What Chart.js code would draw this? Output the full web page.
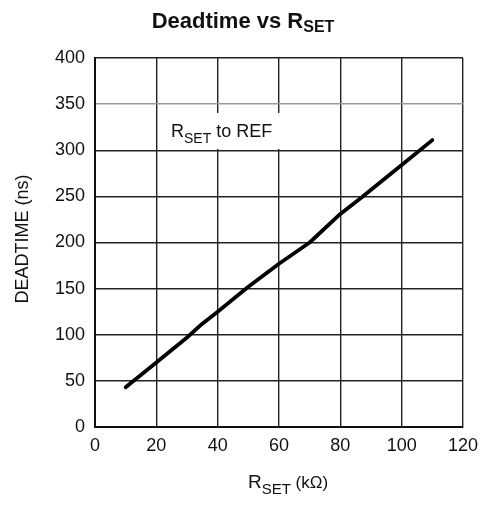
<!DOCTYPE html>
<html>
<head>
<meta charset="utf-8">
<script src="https://cdn.jsdelivr.net/npm/chart.js@4.4.1/dist/chart.umd.min.js"></script>
<style>
  html, body { margin: 0; padding: 0; background: #fff; }
  #wrap { width: 483px; height: 506px; }
</style>
</head>
<body>
<div id="wrap"><canvas id="c" width="483" height="506"></canvas></div>
<script>
// R_SET (kOhm) vs deadtime (ns)
const rset = [10, 20, 30, 35, 40, 50, 60, 70, 80, 87, 100, 110]
const deadtime = [43, 70, 97, 112, 125, 152, 177, 200, 231, 249, 284, 311]
const xTicks = [0, 20, 40, 60, 80, 100, 120]
const yTicks = [0, 50, 100, 150, 200, 250, 300, 350, 400]

const FONT = "'Liberation Sans', Arial, sans-serif"

// draws a run of text pieces, each with own size / baseline shift
function drawRuns(ctx, runs, x, y, align) {
  let total = 0
  runs.forEach(r => {
    ctx.font = r.font
    r.w = ctx.measureText(r.text).width
    total += r.w
  })
  let cx = align === "center" ? x - total / 2 : x
  ctx.textAlign = "left"
  ctx.textBaseline = "alphabetic"
  runs.forEach(r => {
    ctx.font = r.font
    ctx.fillText(r.text, cx, y + (r.dy || 0))
    cx += r.w
  })
  return total
}

const labelsPlugin = {
  id: "labels",
  afterDraw(chart) {
    const ctx = chart.ctx
    ctx.save()
    ctx.fillStyle = "#111"

    // title
    drawRuns(ctx, [
      { text: "Deadtime vs R", font: `bold 22px ${FONT}` },
      { text: "SET", font: `bold 16px ${FONT}`, dy: 4 },
    ], 243, 28, "center")

    // x axis title
    drawRuns(ctx, [
      { text: "R", font: `19px ${FONT}` },
      { text: "SET", font: `15px ${FONT}`, dy: 6 },
      { text: " (k\u03A9)", font: `17px ${FONT}`, dy: 0 },
    ], 288, 488, "center")

    // y axis title
    ctx.save()
    ctx.translate(28, 239)
    ctx.rotate(-Math.PI / 2)
    ctx.font = `18px ${FONT}`
    ctx.textAlign = "center"
    ctx.textBaseline = "alphabetic"
    ctx.fillText("DEADTIME (ns)", 0, 0)
    ctx.restore()

    // in-plot note with white box behind it
    ctx.fillStyle = "#fff"
    ctx.fillRect(165, 113, 116, 36)
    ctx.fillStyle = "#111"
    drawRuns(ctx, [
      { text: "R", font: `18px ${FONT}` },
      { text: "SET", font: `14px ${FONT}`, dy: 6 },
      { text: " to REF", font: `18px ${FONT}` },
    ], 171, 137, "left")
    ctx.restore()
  },
}

new Chart(document.getElementById("c"), {
  type: "line",
  data: {
    datasets: [{
      data: rset.map((x, i) => ({ x, y: deadtime[i] })),
      borderColor: "#000",
      borderWidth: 3.8,
      pointRadius: 0,
      tension: 0,
      fill: false,
      borderCapStyle: "round",
      borderJoinStyle: "round",
      clip: false,
    }],
  },
  options: {
    responsive: false,
    animation: false,
    devicePixelRatio: 1,
    layout: { padding: { top: 58, right: 20, left: 0, bottom: 0 } },
    scales: {
      x: {
        type: "linear",
        min: 0,
        max: 120,
        afterBuildTicks: s => { s.ticks = xTicks.map(v => ({ value: v })) },
        afterFit: s => {
          s.height = 79
          s.paddingLeft = 0
          s.paddingRight = 0
        },
        ticks: { color: "#111", font: { size: 18, family: FONT }, padding: 8 },
        grid: { color: "#222", lineWidth: 1.4, drawTicks: false },
        border: { color: "#111", width: 2 },
      },
      y: {
        min: 0,
        max: 400,
        afterBuildTicks: s => { s.ticks = yTicks.map(v => ({ value: v })) },
        afterFit: s => {
          s.width = 95
          s.paddingTop = 0
          s.paddingBottom = 0
        },
        ticks: { color: "#111", font: { size: 18, family: FONT }, padding: 10 },
        grid: {
          color: c => (c.tick && c.tick.value === 350 ? "#999" : "#222"),
          lineWidth: 1.4,
          drawTicks: false,
        },
        border: { color: "#111", width: 2 },
      },
    },
    plugins: {
      legend: { display: false },
      tooltip: { enabled: false },
    },
  },
  plugins: [labelsPlugin],
})
</script>
</body>
</html>
